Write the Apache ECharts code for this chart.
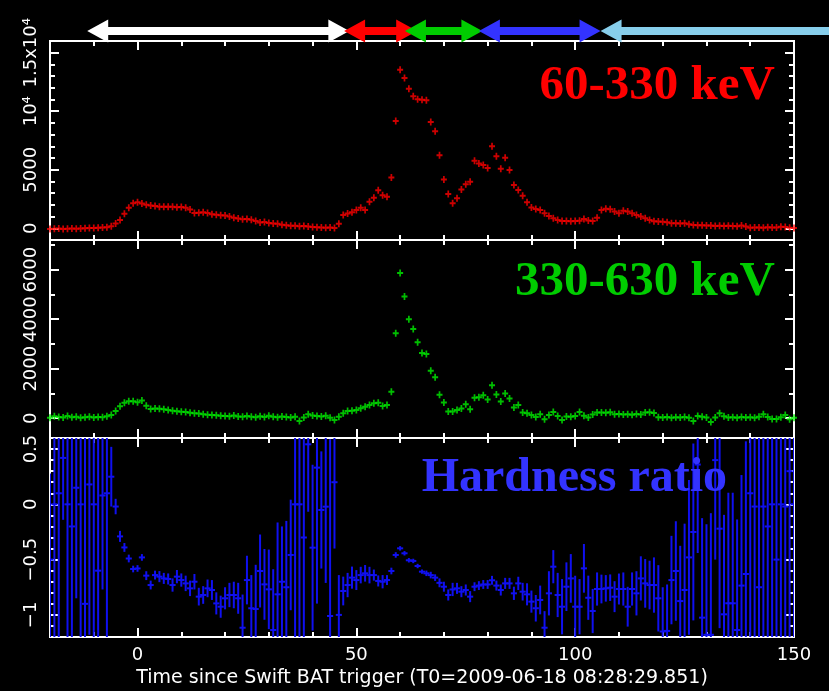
<!DOCTYPE html>
<html><head><meta charset="utf-8">
<script src="https://cdn.jsdelivr.net/npm/echarts@6.0.0/dist/echarts.min.js"></script>
<style>html,body{margin:0;padding:0;background:#000}#c{width:829px;height:691px}</style>
</head><body><div id="c"></div>
<script>
// ---- data ----
const times = [-20,-19,-18,-17,-16,-15,-14,-13,-12,-11,-10,-9,-8,-7,-6,-5,-4,-3,-2,-1,0,1,2,3,4,5,6,7,8,9,10,11,12,13,14,15,16,17,18,19,20,21,22,23,24,25,26,27,28,29,30,31,32,33,34,35,36,37,38,39,40,41,42,43,44,45,46,47,48,49,50,51,52,53,54,55,56,57,58,59,60,61,62,63,64,65,66,67,68,69,70,71,72,73,74,75,76,77,78,79,80,81,82,83,84,85,86,87,88,89,90,91,92,93,94,95,96,97,98,99,100,101,102,103,104,105,106,107,108,109,110,111,112,113,114,115,116,117,118,119,120,121,122,123,124,125,126,127,128,129,130,131,132,133,134,135,136,137,138,139,140,141,142,143,144,145,146,147,148,149,150];

const rate60to330 = [
 -60,-40,-20,-50,-30,-20,-40,-10,0,20,30,40,60,80,180,420,700,1250,1750,2150,
 2230,2120,2020,1950,1900,1850,1830,1850,1830,1800,
 1820,1750,1600,1300,1330,1360,1300,1200,1150,1120,
 1100,1000,900,830,780,800,720,620,500,540,
 460,420,380,300,260,220,220,180,200,150,
 100,80,60,40,60,20,380,1130,1270,1360,
 1560,1760,1560,2270,2610,3260,2830,2690,4340,9170,
 13550,12830,11930,11270,11020,10990,10930,9080,8290,6250,
 4170,2920,2130,2560,3320,3770,3970,5760,5540,5400,
 5160,7010,6160,5080,6020,4990,3700,3270,2790,2220,
 1770,1650,1570,1290,1060,860,710,630,620,610,
 630,640,800,660,630,910,1570,1660,1630,1430,
 1290,1490,1430,1290,1140,1000,860,710,600,570,
 560,520,430,440,420,430,350,280,250,260,
 230,240,200,210,190,220,200,180,230,150,
 40,60,70,50,80,60,70,140,120,50,
 20];

const rate330to630 = [
 20,80,50,30,90,40,60,20,40,60,
 30,50,40,80,130,290,480,620,680,680,
 640,720,500,370,390,380,360,330,300,280,
 260,250,220,200,190,160,140,130,120,100,
 90,80,110,70,60,90,60,40,80,50,
 100,60,40,70,50,30,60,-110,30,160,
 110,90,70,100,20,-70,60,200,290,300,
 330,400,460,530,600,620,490,530,1070,3430,
 5870,4920,4000,3600,3070,2630,2590,1920,1650,950,
 630,270,270,330,390,560,360,830,850,930,
 760,1330,960,670,1000,800,430,530,230,200,
 130,50,160,-40,130,250,90,-70,70,60,
 90,250,100,30,150,230,230,220,240,160,
 170,150,160,140,170,150,230,240,210,40,
 30,50,20,40,30,50,20,-110,90,60,
 30,-150,30,200,80,30,40,20,50,30,
 40,20,60,160,50,-30,-30,40,130,-40,
 20];

const hardness = [
 -0.5,0.0,0.1,0.42,0.0,-0.2,0.15,0.0,-0.9,0.18,
 0.0,-0.6,0.08,0.1,0.25,-0.02,-0.29,-0.39,-0.49,-0.585,
 -0.58,-0.48,-0.645,-0.73,-0.64,-0.654,-0.67,-0.675,-0.73,-0.654,
 -0.685,-0.715,-0.76,-0.70,-0.835,-0.82,-0.76,-0.775,-0.896,-0.926,
 -0.85,-0.82,-0.82,-0.85,-1.116,-0.685,-0.94,-0.947,-0.603,-0.724,
 -0.769,-1.137,-0.814,-0.70,-0.75,-0.458,0.0,0.0,-0.3,0.543,
 -0.392,0.332,-0.051,-0.021,-1.01,0.2,-1.0,-0.784,-0.73,-0.663,
 -0.685,-0.64,-0.624,-0.64,-0.64,-0.693,-0.70,-0.685,-0.603,-0.458,
 -0.398,-0.443,-0.506,-0.512,-0.558,-0.609,-0.624,-0.64,-0.663,-0.71,
 -0.745,-0.82,-0.77,-0.76,-0.79,-0.775,-0.835,-0.745,-0.735,-0.725,
 -0.725,-0.687,-0.735,-0.775,-0.715,-0.715,-0.805,-0.715,-0.79,-0.814,
 -0.88,-0.94,-0.865,-1.116,-0.805,-0.564,-0.82,-0.926,-0.745,-0.67,
 -0.926,-0.926,-0.579,-0.845,-0.965,-0.766,-0.766,-0.76,-0.754,-0.835,
 -0.766,-0.766,-0.926,-0.766,-0.805,-0.67,-0.715,-0.73,-0.73,-0.85,
 -1.15,-1.145,-0.685,-0.603,-0.875,-0.775,-0.48,-0.25,0.36,-1.025,
 -1.18,-1.18,0.4,-0.22,-0.995,-0.895,-0.895,-1.137,-0.735,-0.63,
 0.1,-0.02,-0.75,-0.02,-0.2,0.0,-0.5,0.0,-0.02,0.3,
 0.0];

const hardnessErr = [
 0.78,1.8,1.8,0.56,1.8,1.8,1.0,1.8,1.6,1.36,
 1.8,1.3,0.85,1.4,0.27,0.07,0.05,0.04,0.035,0.03,
 0.03,0.03,0.04,0.04,0.04,0.05,0.05,0.05,0.06,0.06,
 0.06,0.07,0.07,0.07,0.08,0.08,0.08,0.09,0.1,0.1,
 0.1,0.11,0.12,0.14,0.3,0.22,0.3,0.4,0.33,0.32,
 0.36,0.55,0.65,0.5,0.6,0.5,1.8,1.8,1.8,0.61,
 0.75,1.23,0.53,0.69,1.6,0.6,0.36,0.13,0.11,0.1,
 0.09,0.075,0.075,0.075,0.05,0.05,0.06,0.045,0.03,0.025,
 0.02,0.02,0.02,0.02,0.02,0.02,0.025,0.03,0.03,0.04,
 0.045,0.05,0.06,0.05,0.05,0.05,0.05,0.04,0.04,0.04,
 0.04,0.04,0.045,0.05,0.05,0.05,0.06,0.06,0.08,0.1,
 0.1,0.12,0.13,0.15,0.2,0.15,0.2,0.25,0.22,0.22,
 0.28,0.25,0.22,0.2,0.2,0.15,0.13,0.12,0.12,0.14,
 0.14,0.15,0.18,0.15,0.2,0.2,0.22,0.22,0.25,0.3,
 0.4,0.42,0.4,0.45,0.5,0.6,0.7,0.8,0.8,0.9,
 1.0,1.1,0.9,0.9,0.9,1.0,1.0,1.0,1.0,1.2,
 1.3,1.5,1.5,1.5,1.5,1.8,1.8,1.8,1.8,1.8,
 1.8];

// interval arrows above the top panel (time, s)
const arrowFrom = [-11.5, 47.2, 61.1, 78.0, 105.8];
const arrowTo = [48.4, 63.9, 78.8, 105.8, 158];
const arrowHeadLeft = [1, 1, 1, 1, 1];
const arrowHeadRight = [1, 1, 1, 1, 0];
const arrowColors = ['#ffffff', '#ff0000', '#00cc00', '#3333ff', '#87ceeb'];

// axes
const xMin = -20, xMax = 150;
const xMajorTicks = [0, 50, 100, 150];
const xMinorTicks = [-10, 10, 20, 30, 40, 60, 70, 80, 90, 110, 120, 130, 140];
const xTitle = 'Time since Swift BAT trigger (T0=2009-06-18 08:28:29.851)';

const y1Range = [-1000, 16000];
const y1Major = [0, 5000, 10000, 15000];
const y1MajorLabels = ['0', '5000', '10\u2074', '1.5x10\u2074'];
const y1Minor = [1000, 2000, 3000, 4000, 6000, 7000, 8000, 9000, 11000, 12000, 13000, 14000, 16000];

const y2Range = [-800, 7200];
const y2Major = [0, 2000, 4000, 6000];
const y2MajorLabels = ['0', '2000', '4000', '6000'];
const y2Minor = [1000, 3000, 5000, 7000];

const y3Range = [-1.2, 0.6];
const y3Major = [-1, -0.5, 0, 0.5];
const y3MajorLabels = ['\u22121', '\u22120.5', '0', '0.5'];
const y3Minor = [-1.1, -0.9, -0.8, -0.7, -0.6, -0.4, -0.3, -0.2, -0.1, 0.1, 0.2, 0.3, 0.4, 0.6];

const bandLabels = ['60-330 keV', '330-630 keV', 'Hardness ratio'];
const bandColors = ['#ff0000', '#00cc00', '#3333ff'];

// ---- chart ----
const FONT = '"DejaVu Sans", Verdana, sans-serif';
const SERIF = '"Liberation Serif", "Times New Roman", serif';
const tickStyle = {color: '#fff', width: 2};

function xAxesFor(g, withLabels) {
  const base = {type: 'value', gridIndex: g, min: xMin, max: xMax,
    splitLine: {show: false}, axisLine: {show: false, onZero: false}};
  const major = Object.assign({}, base, {
    position: 'bottom',
    axisTick: {show: true, inside: true, length: 9, customValues: xMajorTicks, lineStyle: tickStyle},
    axisLabel: withLabels ? {show: true, customValues: xMajorTicks, color: '#fff', fontSize: 18, fontFamily: FONT, margin: 9} : {show: false}
  });
  if (withLabels) {
    major.name = xTitle; major.nameLocation = 'middle'; major.nameGap = 32;
    major.nameTextStyle = {color: '#fff', fontSize: 19, fontFamily: FONT};
  }
  return [
    major,
    Object.assign({}, base, {position: 'bottom', axisTick: {show: true, inside: true, length: 5, customValues: xMinorTicks, lineStyle: tickStyle}, axisLabel: {show: false}}),
    Object.assign({}, base, {position: 'top', axisTick: {show: true, inside: true, length: 9, customValues: xMajorTicks, lineStyle: tickStyle}, axisLabel: {show: false}}),
    Object.assign({}, base, {position: 'top', axisTick: {show: true, inside: true, length: 5, customValues: xMinorTicks, lineStyle: tickStyle}, axisLabel: {show: false}})
  ];
}

function yAxesFor(g, range, majors, labels, minors) {
  const base = {type: 'value', gridIndex: g, min: range[0], max: range[1],
    splitLine: {show: false}, axisLine: {show: false, onZero: false}};
  return [
    Object.assign({}, base, {position: 'left',
      axisTick: {show: true, inside: true, length: 9, customValues: majors, lineStyle: tickStyle},
      axisLabel: {show: true, customValues: majors, rotate: 90, color: '#fff', fontSize: 18, fontFamily: FONT, margin: 10,
        formatter: function (v) { const k = majors.findIndex(m => Math.abs(m - v) < 1e-9); return k >= 0 ? labels[k] : ''; }}}),
    Object.assign({}, base, {position: 'left', axisTick: {show: true, inside: true, length: 5, customValues: minors, lineStyle: tickStyle}, axisLabel: {show: false}}),
    Object.assign({}, base, {position: 'right', axisTick: {show: true, inside: true, length: 9, customValues: majors, lineStyle: tickStyle}, axisLabel: {show: false}}),
    Object.assign({}, base, {position: 'right', axisTick: {show: true, inside: true, length: 5, customValues: minors, lineStyle: tickStyle}, axisLabel: {show: false}})
  ];
}

const gridStyle = {show: true, borderColor: '#fff', borderWidth: 2, backgroundColor: 'transparent', left: 50, right: 35};

function renderArrow(params, api) {
  const x1 = api.coord([api.value(0), 0])[0];
  const x2 = api.coord([api.value(1), 0])[0];
  const y = params.coordSys.y - 10;
  const hl = 21, hh = 11.5, sh = 4;
  const left = api.value(2), right = api.value(3);
  const pts = [];
  if (left) pts.push([x1, y], [x1 + hl, y - hh], [x1 + hl, y - sh]); else pts.push([x1, y - sh]);
  if (right) pts.push([x2 - hl, y - sh], [x2 - hl, y - hh], [x2, y], [x2 - hl, y + hh], [x2 - hl, y + sh]);
  else pts.push([x2, y - sh], [x2, y + sh]);
  if (left) pts.push([x1 + hl, y + sh], [x1 + hl, y + hh]); else pts.push([x1, y + sh]);
  return {type: 'polygon', shape: {points: pts}, style: {fill: arrowColors[params.dataIndex]}};
}

function renderErr(params, api) {
  const t = api.value(0), c = api.value(1), e = api.value(2);
  const cs = params.coordSys;
  const top = api.coord([t, c + e]), bot = api.coord([t, c - e]);
  const l = api.coord([t - 0.7, c]), r = api.coord([t + 0.7, c]);
  const yTop = Math.max(cs.y, top[1]), yBot = Math.min(cs.y + cs.height, bot[1]);
  const xl = Math.max(cs.x, l[0]), xr = Math.min(cs.x + cs.width, r[0]);
  const children = [];
  const col = '#1010f0';
  if (yBot > yTop) children.push({type: 'line', shape: {x1: top[0], y1: yTop, x2: top[0], y2: yBot}, style: {stroke: col, lineWidth: 2}});
  if (l[1] >= cs.y && l[1] <= cs.y + cs.height && xr > xl) children.push({type: 'line', shape: {x1: xl, y1: l[1], x2: xr, y2: r[1]}, style: {stroke: col, lineWidth: 2}});
  return {type: 'group', children: children};
}

const crossSymbol = 'path://M0,2.5H7V4.5H0Z M2.5,0H4.5V7H2.5Z';

const option = {
  backgroundColor: '#000',
  animation: false,
  title: [
    {text: bandLabels[0], right: 54, top: 62, padding: 0, textStyle: {color: bandColors[0], fontFamily: SERIF, fontWeight: 'bold', fontSize: 49}},
    {text: bandLabels[1], right: 54, top: 258, padding: 0, textStyle: {color: bandColors[1], fontFamily: SERIF, fontWeight: 'bold', fontSize: 49}},
    {text: bandLabels[2], right: 102, top: 455, padding: 0, textStyle: {color: bandColors[2], fontFamily: SERIF, fontWeight: 'bold', fontSize: 48}}
  ],
  grid: [
    Object.assign({}, gridStyle, {top: 41, height: 199}),
    Object.assign({}, gridStyle, {top: 240, height: 198}),
    Object.assign({}, gridStyle, {top: 438, height: 199})
  ],
  xAxis: [].concat(xAxesFor(0, false), xAxesFor(1, false), xAxesFor(2, true)),
  yAxis: [].concat(
    yAxesFor(0, y1Range, y1Major, y1MajorLabels, y1Minor),
    yAxesFor(1, y2Range, y2Major, y2MajorLabels, y2Minor),
    yAxesFor(2, y3Range, y3Major, y3MajorLabels, y3Minor)),
  series: [
    {type: 'scatter', xAxisIndex: 0, yAxisIndex: 0, symbol: crossSymbol, symbolSize: [6, 7],
      itemStyle: {color: '#ff0000'}, data: times.map((t, i) => [t, rate60to330[i]])},
    {type: 'scatter', xAxisIndex: 4, yAxisIndex: 4, symbol: crossSymbol, symbolSize: [6, 7],
      itemStyle: {color: '#00ee00'}, data: times.map((t, i) => [t, rate330to630[i]])},
    {type: 'custom', xAxisIndex: 8, yAxisIndex: 8, renderItem: renderErr, clip: true,
      encode: {x: 0, y: 1}, data: times.map((t, i) => [t, hardness[i], hardnessErr[i]])},
    {type: 'custom', xAxisIndex: 0, yAxisIndex: 0, renderItem: renderArrow, clip: false, silent: true,
      encode: {x: [0, 1]}, data: arrowFrom.map((f, i) => [f, arrowTo[i], arrowHeadLeft[i], arrowHeadRight[i]])}
  ]
};

const chart = echarts.init(document.getElementById('c'), null, {renderer: 'canvas', width: 829, height: 691});
chart.setOption(option);
</script>
</body></html>
